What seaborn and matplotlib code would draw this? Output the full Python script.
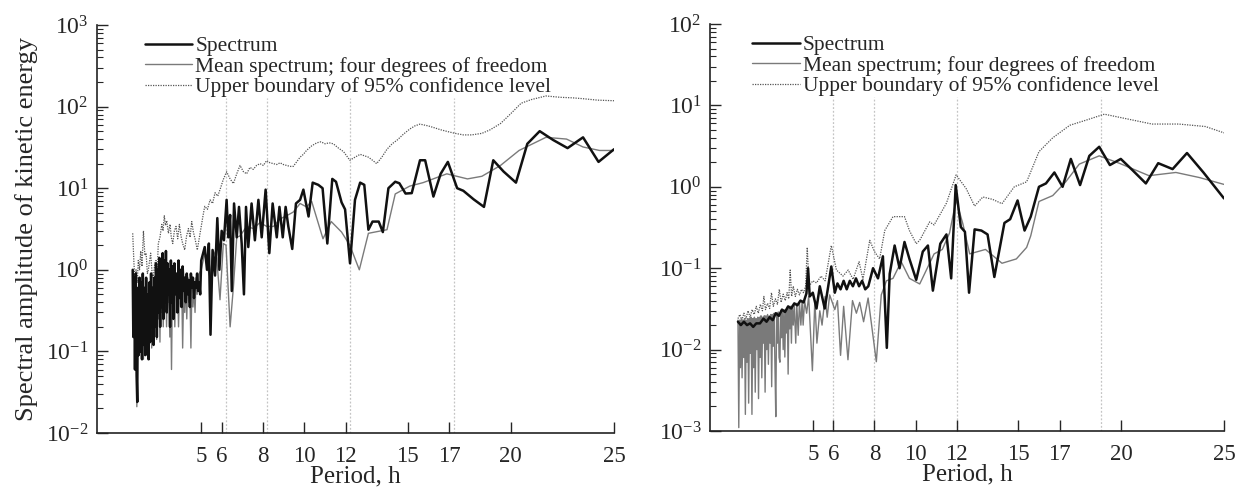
import numpy as np
import pandas as pd
import seaborn as sns
import matplotlib
matplotlib.use("Agg")
import matplotlib.pyplot as plt
from matplotlib import font_manager
from matplotlib.ticker import LogLocator, NullFormatter, FixedLocator, LogFormatterMathtext

# ---------------- data (period h, amplitude) ----------------
xticks = [5, 6, 8, 10, 12, 15, 17, 20, 25]
legend_labels = ["Spectrum", "Mean spectrum; four degrees of freedom",
                 "Upper boundary of 95% confidence level"]
left_vlines = [6.2, 8.2, 12.2, 17.25]
right_vlines = [6.0, 8.0, 12.0, 19.0]

left_spectrum = [(1.68,1.0),(1.71,0.15),(1.75,0.8),(1.79,0.06),(1.83,0.9),(1.87,0.05),(1.90,0.024),(1.93,0.6),(1.97,0.09),(2.01,0.8),(2.05,0.1),(2.09,0.7),(2.13,0.08),(2.17,0.9),(2.21,0.12),(2.25,0.6),(2.29,0.09),(2.33,0.8),(2.37,0.15),(2.41,0.5),(2.45,0.08),(2.49,0.7),(2.53,0.13),(2.57,0.9),(2.61,0.2),(2.65,0.6),(2.69,0.12),(2.73,0.8),(2.77,0.2),(2.81,1.2),(2.85,0.15),(2.89,1.0),(2.93,0.3),(2.97,1.4),(3.01,0.2),(3.05,1.1),(3.09,0.35),(3.13,1.6),(3.17,0.25),(3.21,1.3),(3.25,0.4),(3.29,1.7),(3.33,0.3),(3.37,1.2),(3.41,0.5),(3.45,1.0),(3.49,0.2),(3.53,1.3),(3.57,0.4),(3.61,1.1),(3.65,0.25),(3.70,1.2),(3.75,0.5),(3.80,0.9),(3.85,0.3),(3.90,1.3),(3.95,0.45),(4.00,1.0),(4.05,0.35),(4.10,1.1),(4.15,0.55),(4.20,0.8),(4.25,0.4),(4.30,0.9),(4.35,0.5),(4.40,0.75),(4.45,0.35),(4.50,0.9),(4.55,0.6),(4.60,0.8),(4.65,0.45),(4.70,0.7),(4.75,0.6),(4.80,0.9),(4.85,0.55),(4.90,0.7),(4.95,0.5),(5.00,1.3),(5.17,1.9),(5.28,1.0),(5.37,2.1),(5.45,0.16),(5.55,1.75),(5.67,0.85),(5.78,4.3),(5.88,1.0),(5.99,3.0),(6.10,2.3),(6.23,7.2),(6.31,2.5),(6.40,4.7),(6.48,0.55),(6.59,6.5),(6.72,2.5),(6.83,5.9),(6.96,2.1),(7.07,0.5),(7.17,5.9),(7.28,1.9),(7.44,6.5),(7.60,2.3),(7.77,7.2),(7.93,2.5),(8.12,9.6),(8.30,1.6),(8.46,6.5),(8.66,2.5),(8.79,5.9),(8.95,2.5),(9.09,5.9),(9.22,3.4),(9.41,1.8),(9.59,6.5),(9.79,7.2),(9.95,9.6),(10.2,4.5),(10.4,11.7),(10.67,11.0),(10.88,10.0),(11.11,2.1),(11.35,13.0),(11.53,12.0),(11.8,6.7),(11.97,5.5),(12.21,1.2),(12.45,7.2),(12.7,11.7),(12.9,11.0),(13.1,3.1),(13.3,3.9),(13.6,3.9),(13.8,2.9),(14.07,10.0),(14.4,12.0),(14.6,11.5),(14.9,8.6),(15.2,8.7),(15.6,22.0),(15.85,22.0),(16.25,7.9),(16.6,15.0),(16.95,21.0),(17.4,10.0),(17.7,9.3),(18.2,7.3),(18.7,5.9),(19.15,22.0),(19.65,16.0),(20.25,11.7),(20.8,35.0),(21.4,50.0),(22.05,39.0),(22.75,31.0),(23.5,42.0),(24.25,21.0),(25.0,30.0)]

left_mean = [(1.68,0.9),(1.72,0.2),(1.76,0.7),(1.80,0.1),(1.84,0.6),(1.88,0.021),(1.92,0.4),(1.96,0.15),(2.00,0.5),(2.04,0.12),(2.08,0.45),(2.12,0.09),(2.16,0.5),(2.20,0.08),(2.24,0.4),(2.28,0.14),(2.32,0.55),(2.36,0.09),(2.40,0.4),(2.44,0.1),(2.48,0.5),(2.52,0.2),(2.56,0.6),(2.60,0.11),(2.64,0.45),(2.68,0.16),(2.72,0.7),(2.76,0.2),(2.80,0.8),(2.84,0.14),(2.88,0.6),(2.92,0.25),(2.96,0.7),(3.00,0.13),(3.04,0.9),(3.08,0.3),(3.12,0.6),(3.16,0.2),(3.20,0.8),(3.24,0.35),(3.28,0.9),(3.32,0.2),(3.36,0.7),(3.40,0.4),(3.44,0.5),(3.48,0.15),(3.52,0.6),(3.56,0.06),(3.60,0.5),(3.64,0.3),(3.68,0.8),(3.72,0.2),(3.76,0.6),(3.80,0.3),(3.85,0.9),(3.90,0.2),(3.95,0.7),(4.00,0.35),(4.05,0.8),(4.10,0.11),(4.15,0.6),(4.20,0.3),(4.25,0.7),(4.30,0.25),(4.35,0.8),(4.40,0.4),(4.45,0.6),(4.50,0.11),(4.55,0.7),(4.60,0.35),(4.65,0.6),(4.70,0.3),(4.75,0.8),(4.80,0.5),(4.90,0.9),(5.00,1.0),(5.17,1.6),(5.33,1.0),(5.43,0.8),(5.59,1.7),(5.75,1.4),(5.91,0.43),(6.07,2.1),(6.2,2.0),(6.4,0.2),(6.56,0.62),(6.72,2.5),(6.88,2.6),(7.2,3.4),(7.53,3.2),(7.85,3.8),(8.17,3.4),(8.5,3.4),(8.82,4.2),(9.14,4.6),(9.46,5.1),(9.79,6.5),(10.1,5.9),(10.35,6.9),(10.9,2.4),(11.3,3.9),(11.8,2.9),(12.2,2.0),(12.66,1.0),(13.1,2.8),(14.0,3.1),(14.4,8.5),(15.1,10.6),(15.75,11.7),(16.9,15.0),(17.9,13.0),(18.6,14.0),(19.5,19.0),(20.4,29.0),(21.7,42.0),(22.7,40.0),(23.5,32.0),(24.3,29.0),(25.0,29.0)]

left_upper = [(1.68,2.8),(1.74,1.2),(1.80,0.66),(1.84,1.0),(1.90,0.7),(1.95,1.3),(2.01,1.0),(2.07,1.7),(2.13,1.1),(2.2,3.0),(2.27,1.5),(2.33,1.6),(2.39,0.9),(2.44,1.0),(2.5,1.3),(2.55,1.6),(2.62,0.9),(2.68,0.8),(2.75,1.2),(2.81,1.3),(2.87,1.0),(2.92,2.1),(3.0,2.5),(3.09,3.6),(3.15,3.0),(3.21,4.6),(3.27,3.5),(3.33,4.0),(3.41,2.8),(3.49,3.6),(3.55,2.5),(3.62,2.1),(3.7,3.0),(3.78,3.4),(3.86,2.4),(3.94,3.6),(4.02,2.6),(4.1,2.1),(4.2,1.75),(4.29,2.6),(4.38,3.2),(4.46,2.5),(4.54,3.9),(4.62,2.9),(4.7,2.4),(4.81,1.75),(4.9,2.4),(5.0,3.4),(5.08,4.5),(5.17,6.0),(5.3,5.5),(5.43,7.2),(5.55,6.5),(5.67,8.8),(5.8,8.0),(5.91,9.6),(6.07,12.8),(6.23,15.9),(6.4,13.0),(6.56,11.4),(6.72,15.0),(6.88,19.0),(7.04,16.0),(7.2,15.0),(7.36,18.0),(7.52,17.0),(7.68,19.0),(7.85,20.0),(8.01,19.0),(8.17,21.8),(8.33,20.5),(8.5,20.0),(8.66,19.5),(8.82,20.5),(8.98,19.5),(9.14,19.0),(9.3,18.5),(9.46,18.5),(9.62,21.0),(9.79,24.0),(9.95,26.0),(10.1,29.0),(10.35,33.0),(10.6,36.0),(10.8,37.0),(11.0,35.0),(11.2,36.0),(11.4,35.0),(11.65,31.0),(11.9,28.0),(12.2,22.0),(12.45,24.0),(12.7,26.0),(12.9,25.0),(13.1,24.0),(13.3,22.0),(13.5,20.0),(13.75,24.0),(14.0,30.0),(14.25,35.0),(14.5,39.0),(14.8,46.0),(15.1,53.0),(15.35,58.0),(15.6,61.0),(16.0,58.0),(16.3,55.0),(16.6,52.0),(17.0,49.0),(17.3,47.0),(17.7,45.0),(18.1,45.0),(18.6,47.0),(19.0,52.0),(19.5,62.0),(20.0,82.0),(20.5,110.0),(21.0,122.0),(21.7,135.0),(22.4,130.0),(23.0,128.0),(23.5,125.0),(24.2,120.0),(25.0,118.0)]

right_spectrum = [(1.36,0.022),(1.5,0.02),(1.65,0.022),(1.8,0.02),(1.95,0.021),(2.1,0.019),(2.25,0.021),(2.43,0.021),(2.6,0.024),(2.75,0.022),(2.9,0.025),(3.05,0.023),(3.2,0.028),(3.35,0.026),(3.5,0.031),(3.65,0.029),(3.8,0.034),(3.95,0.032),(4.1,0.037),(4.25,0.035),(4.4,0.04),(4.55,0.038),(4.69,0.049),(4.77,0.1),(4.85,0.045),(5.0,0.05),(5.18,0.032),(5.34,0.06),(5.58,0.032),(5.75,0.06),(5.9,0.105),(6.07,0.05),(6.2,0.065),(6.35,0.055),(6.5,0.07),(6.65,0.055),(6.8,0.07),(6.95,0.06),(7.1,0.075),(7.25,0.06),(7.4,0.07),(7.55,0.055),(7.7,0.06),(7.93,0.1),(8.17,0.075),(8.41,0.14),(8.6,0.0105),(8.74,0.085),(8.98,0.19),(9.22,0.1),(9.46,0.21),(9.7,0.13),(10.03,0.072),(10.35,0.16),(10.6,0.19),(10.84,0.053),(11.2,0.2),(11.5,0.26),(11.73,0.075),(11.95,1.05),(12.2,0.32),(12.4,0.28),(12.6,0.05),(12.87,0.3),(13.2,0.29),(13.5,0.26),(13.83,0.078),(14.32,0.36),(14.6,0.4),(14.96,0.68),(15.3,0.29),(15.6,0.43),(16.0,1.0),(16.34,1.1),(16.75,1.5),(17.15,1.0),(17.55,2.2),(18.0,1.05),(18.45,2.4),(18.93,3.1),(19.45,1.85),(19.98,2.2),(20.55,1.6),(21.2,1.1),(21.8,1.95),(22.5,1.65),(23.2,2.6),(24.0,1.5),(25.0,0.72)]

right_mean = [(1.36,0.023),(1.40,0.0011),(1.44,0.023),(1.48,0.006),(1.52,0.024),(1.56,0.0045),(1.60,0.023),(1.64,0.008),(1.68,0.024),(1.72,0.0016),(1.76,0.023),(1.80,0.007),(1.84,0.024),(1.88,0.0022),(1.92,0.024),(1.96,0.009),(2.00,0.025),(2.04,0.0016),(2.08,0.024),(2.12,0.006),(2.16,0.025),(2.20,0.003),(2.24,0.024),(2.28,0.01),(2.32,0.025),(2.36,0.0025),(2.40,0.025),(2.44,0.008),(2.48,0.026),(2.52,0.0045),(2.56,0.025),(2.60,0.012),(2.64,0.026),(2.68,0.003),(2.72,0.026),(2.76,0.01),(2.80,0.027),(2.84,0.0066),(2.88,0.026),(2.92,0.012),(2.96,0.027),(3.00,0.0035),(3.04,0.027),(3.08,0.011),(3.12,0.028),(3.16,0.006),(3.20,0.0015),(3.24,0.028),(3.28,0.012),(3.32,0.029),(3.36,0.008),(3.40,0.007),(3.44,0.03),(3.48,0.014),(3.52,0.03),(3.56,0.01),(3.60,0.031),(3.64,0.0081),(3.68,0.031),(3.72,0.016),(3.76,0.032),(3.80,0.005),(3.84,0.033),(3.88,0.018),(3.92,0.034),(3.96,0.012),(4.00,0.035),(4.05,0.02),(4.10,0.036),(4.17,0.012),(4.22,0.037),(4.29,0.015),(4.35,0.038),(4.42,0.02),(4.48,0.04),(4.53,0.02),(4.60,0.04),(4.70,0.028),(4.80,0.045),(4.98,0.0055),(5.10,0.04),(5.20,0.012),(5.34,0.03),(5.45,0.02),(5.60,0.045),(5.70,0.025),(5.82,0.047),(6.07,0.031),(6.2,0.04),(6.35,0.0085),(6.5,0.034),(6.71,0.0075),(6.93,0.04),(7.12,0.028),(7.28,0.038),(7.47,0.022),(7.69,0.043),(8.09,0.0071),(8.33,0.047),(8.58,0.07),(8.9,0.075),(9.3,0.12),(9.7,0.075),(10.2,0.064),(10.9,0.15),(11.3,0.17),(11.65,0.27),(11.97,0.69),(12.3,0.35),(12.63,0.15),(13.4,0.17),(14.2,0.115),(14.9,0.13),(15.4,0.18),(15.6,0.25),(16.0,0.66),(16.67,0.78),(17.3,1.15),(17.96,1.9),(18.93,2.4),(19.9,1.95),(21.35,1.37),(22.66,1.5),(23.8,1.3),(25.0,1.07)]

right_upper = [(1.36,0.024),(1.45,0.027),(1.55,0.023),(1.65,0.028),(1.75,0.024),(1.85,0.03),(1.95,0.025),(2.05,0.031),(2.15,0.027),(2.25,0.034),(2.35,0.028),(2.45,0.036),(2.55,0.03),(2.62,0.045),(2.7,0.031),(2.8,0.037),(2.9,0.032),(2.99,0.05),(3.08,0.034),(3.18,0.042),(3.28,0.036),(3.37,0.055),(3.46,0.038),(3.56,0.048),(3.66,0.04),(3.75,0.05),(3.83,0.042),(3.9,0.095),(3.97,0.045),(4.05,0.06),(4.15,0.045),(4.25,0.055),(4.35,0.047),(4.45,0.055),(4.55,0.05),(4.65,0.06),(4.73,0.18),(4.82,0.06),(5.0,0.07),(5.18,0.066),(5.4,0.08),(5.6,0.07),(5.9,0.19),(6.15,0.095),(6.47,0.08),(6.72,0.095),(6.96,0.073),(7.25,0.12),(7.44,0.073),(7.77,0.22),(8.0,0.16),(8.25,0.13),(8.5,0.29),(8.9,0.43),(9.46,0.43),(9.7,0.29),(10.03,0.2),(10.2,0.22),(10.68,0.37),(10.9,0.34),(11.5,0.63),(11.97,1.4),(12.46,0.95),(12.87,0.58),(13.27,0.75),(13.75,0.7),(14.2,0.62),(14.8,1.0),(15.4,1.15),(16.0,2.7),(16.67,4.0),(17.5,5.7),(18.3,6.6),(19.18,7.8),(20.2,6.9),(21.5,5.9),(22.8,5.9),(24.1,5.5),(25.0,4.6)]

# ---------------- style ----------------
sns.set_style("white")
_available = {f.name for f in font_manager.fontManager.ttflist}
_serif = [f for f in ["Liberation Serif", "Times New Roman", "Nimbus Roman",
                      "STIXGeneral", "DejaVu Serif"] if f in _available]
plt.rcParams["font.family"] = _serif if _serif else ["serif"]
plt.rcParams["mathtext.fontset"] = "stix"

W, H = 1243, 493
fig = plt.figure(figsize=(W / 100, H / 100), dpi=100)
ax1 = fig.add_axes([97 / W, 1 - 433 / H, 517 / W, 408 / H])
ax2 = fig.add_axes([710 / W, 1 - 431 / H, 514 / W, 407 / H])

C_SPEC = "#111111"
C_MEAN = "#7a7a7a"
C_UP = "#555555"


def draw(ax, spec, mean, upper, vlines, ylim, xlim, legend_anchor):
    for xv in vlines:
        ax.axvline(xv, ymin=0, ymax=0.82, color="#c4c4c4", lw=0.9,
                   linestyle=(0, (1.5, 1.5)), zorder=0)
    dm = pd.DataFrame(mean, columns=["period", "amp"])
    du = pd.DataFrame(upper, columns=["period", "amp"])
    ds = pd.DataFrame(spec, columns=["period", "amp"])
    sns.lineplot(data=dm, x="period", y="amp", ax=ax, color=C_MEAN, lw=1.0,
                 estimator=None, sort=False, zorder=2)
    sns.lineplot(data=du, x="period", y="amp", ax=ax, color=C_UP, lw=0.9,
                 linestyle=(0, (1.0, 1.0)), estimator=None, sort=False, zorder=1)
    sns.lineplot(data=ds, x="period", y="amp", ax=ax, color=C_SPEC, lw=1.8,
                 estimator=None, sort=False, zorder=3)
    lines = ax.get_lines()
    h_spec, h_mean, h_up = lines[-1], lines[-3], lines[-2]
    ax.set_yscale("log")
    ax.set_ylim(*ylim)
    ax.set_xlim(*xlim)
    ax.xaxis.set_major_locator(FixedLocator(xticks))
    ax.set_xticklabels([str(t) for t in xticks])
    ax.yaxis.set_major_locator(LogLocator(base=10, numticks=10))
    ax.yaxis.set_major_formatter(LogFormatterMathtext())
    ax.yaxis.set_minor_locator(LogLocator(base=10, subs=np.arange(2, 10), numticks=20))
    ax.yaxis.set_minor_formatter(NullFormatter())
    ax.tick_params(axis="x", which="major", direction="in", length=8, width=1.0,
                   labelsize=16.5, pad=9, bottom=True, top=False)
    ax.tick_params(axis="y", which="major", direction="in", length=8, width=1.0,
                   labelsize=17, pad=6, left=True, right=False)
    ax.tick_params(axis="y", which="minor", direction="in", length=4.5, width=0.8,
                   left=True, right=False)
    for s in ("top", "right"):
        ax.spines[s].set_visible(False)
    for s in ("left", "bottom"):
        ax.spines[s].set_linewidth(1.2)
        ax.spines[s].set_color("#222222")
    ax.set_xlabel("Period, h", fontsize=18, labelpad=-1)
    ax.set_ylabel("")
    ax.legend([h_spec, h_mean, h_up], legend_labels, loc="upper left",
              bbox_to_anchor=legend_anchor, frameon=False, fontsize=15.5,
              handlelength=2.2, handletextpad=0.14, labelspacing=0.02,
              borderpad=0, borderaxespad=0)


draw(ax1, left_spectrum, left_mean, left_upper, left_vlines,
     (1e-2, 1e3), (-0.05, 25), (0.093, 0.972))
draw(ax2, right_spectrum, right_mean, right_upper, right_vlines,
     (1e-3, 1e2), (0, 25), (0.082, 0.972))
ax1.set_ylabel("Spectral amplitude of kinetic energy", fontsize=19, labelpad=6)

fig.savefig("out.png", dpi=100)
